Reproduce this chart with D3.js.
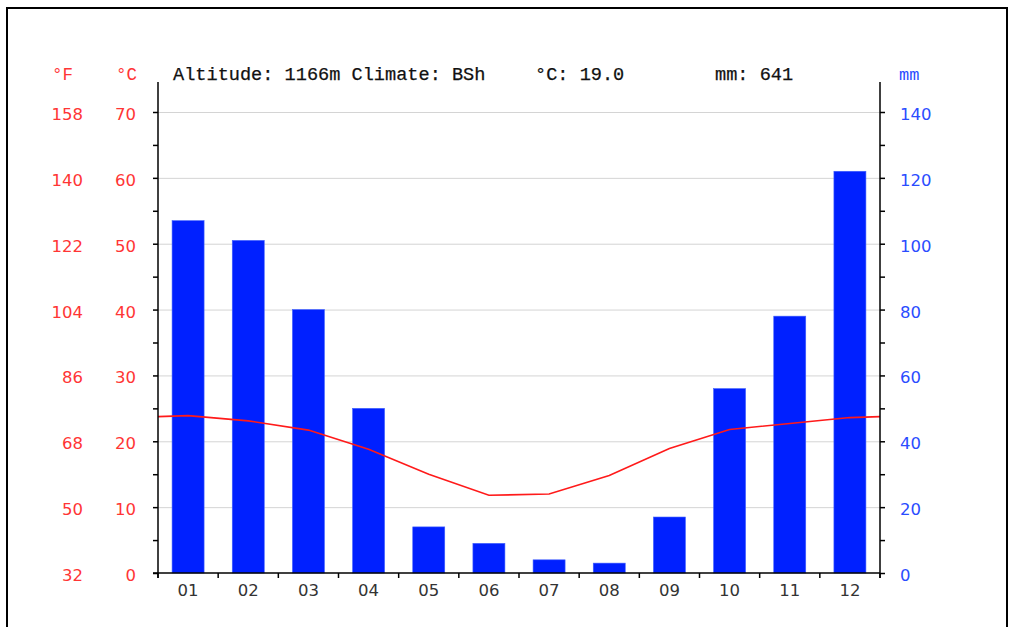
<!DOCTYPE html>
<html>
<head>
<meta charset="utf-8">
<script src="https://cdn.jsdelivr.net/npm/d3@7"></script>
<style>
  html, body { margin: 0; padding: 0; background: #fff; }
  svg { display: block; }
</style>
</head>
<body>
<svg id="chart" width="1009" height="627"></svg>
<script>
// Monthly climate normals
const months = ["01","02","03","04","05","06","07","08","09","10","11","12"];
const precipMm = [107, 101, 80, 50, 14, 9, 4, 3, 17, 56, 78, 122];
const tempC = [23.9, 23.1, 21.7, 18.8, 15.0, 11.8, 12.0, 14.8, 18.9, 21.8, 22.7, 23.6];
const celsiusTicks = [0, 10, 20, 30, 40, 50, 60, 70];
const fahrenheitTicks = [32, 50, 68, 86, 104, 122, 140, 158];
const mmTicks = [0, 20, 40, 60, 80, 100, 120, 140];
const headerInfo = { altitude: "1166m", climate: "BSh", meanC: "19.0", totalMm: "641" };

const RED = "#ff3535";
const BLUE = "#2a4cff";
const BAR = "#0020ff";

const svg = d3.select("#chart");
const plotLeft = 158, plotRight = 880, plotTop = 112, plotBottom = 573;

const x = d3.scaleBand().domain(months).range([plotLeft, plotRight]).paddingInner(0).paddingOuter(0);
const yC = d3.scaleLinear().domain([0, 70]).range([plotBottom, plotTop]);
const yMm = d3.scaleLinear().domain([0, 140]).range([plotBottom, plotTop]);
const yF = d3.scaleLinear().domain([32, 158]).range([plotBottom, plotTop]);

// outer frame
svg.append("path")
  .attr("d", `M7,640 V8 H1007 V640`)
  .attr("fill", "none").attr("stroke", "#000").attr("stroke-width", 2);

// horizontal grid
svg.append("g").selectAll("line").data(celsiusTicks.slice(1)).join("line")
  .attr("x1", plotLeft).attr("x2", plotRight)
  .attr("y1", d => yC(d) + 0.5).attr("y2", d => yC(d) + 0.5)
  .attr("stroke", "#d4d4d4").attr("stroke-width", 1);

// precipitation bars
const barW = 32;
svg.append("g").selectAll("rect").data(months).join("rect")
  .attr("x", (m) => x(m) + x.bandwidth() / 2 - barW / 2)
  .attr("width", barW)
  .attr("y", (m, i) => yMm(precipMm[i]))
  .attr("height", (m, i) => yMm(0) - yMm(precipMm[i]))
  .attr("fill", BAR)
  .attr("stroke", "#4060ff").attr("stroke-width", 0.6);

// temperature line, wrapped to the plot edges with the Dec/Jan mean
const edgeT = (tempC[0] + tempC[11]) / 2;
const linePts = [[plotLeft, edgeT]]
  .concat(months.map((m, i) => [x(m) + x.bandwidth() / 2, tempC[i]]))
  .concat([[plotRight, edgeT]]);
svg.append("path")
  .datum(linePts)
  .attr("d", d3.line().x(d => d[0]).y(d => yC(d[1])))
  .attr("fill", "none").attr("stroke", "#ff1a1a").attr("stroke-width", 1.6);

// left (°C) axis
const axC = d3.axisLeft(yC).tickValues(d3.range(0, 71, 5)).tickSize(5).tickFormat("");
const gL = svg.append("g").attr("transform", `translate(${plotLeft},0)`).call(axC);
gL.select(".domain").remove();
gL.selectAll(".tick line").attr("stroke", "#000").attr("stroke-width", 1.5);
svg.append("line").attr("x1", plotLeft).attr("x2", plotLeft).attr("y1", 82).attr("y2", 578)
  .attr("stroke", "#000").attr("stroke-width", 1.5);

// right (mm) axis
const axM = d3.axisRight(yMm).tickValues(d3.range(0, 141, 10)).tickSize(5).tickFormat("");
const gR = svg.append("g").attr("transform", `translate(${plotRight},0)`).call(axM);
gR.select(".domain").remove();
gR.selectAll(".tick line").attr("stroke", "#000").attr("stroke-width", 1.5);
svg.append("line").attr("x1", plotRight).attr("x2", plotRight).attr("y1", 82).attr("y2", 578)
  .attr("stroke", "#000").attr("stroke-width", 1.5);

// bottom axis
svg.append("line").attr("x1", plotLeft - 5).attr("x2", plotRight).attr("y1", plotBottom).attr("y2", plotBottom)
  .attr("stroke", "#000").attr("stroke-width", 1.5);
const monthEdges = months.map(m => x(m)).concat([plotRight]);
svg.append("g").selectAll("line").data(monthEdges).join("line")
  .attr("x1", d => d).attr("x2", d => d).attr("y1", plotBottom).attr("y2", plotBottom + 5)
  .attr("stroke", "#000").attr("stroke-width", 1.5);

const sans = "'DejaVu Sans', Verdana, sans-serif";
const mono = "'Liberation Mono', 'Courier New', monospace";

// month labels
svg.append("g").selectAll("text").data(months).join("text")
  .attr("x", m => x(m) + x.bandwidth() / 2)
  .attr("y", 596)
  .attr("text-anchor", "middle")
  .attr("font-family", sans).attr("font-size", 16.5)
  .attr("fill", "#333")
  .text(m => m);

// °C tick labels
svg.append("g").selectAll("text").data(celsiusTicks).join("text")
  .attr("x", 136).attr("y", d => yC(d) + 8)
  .attr("text-anchor", "end")
  .attr("font-family", sans).attr("font-size", 16.5)
  .attr("fill", RED)
  .text(d => d);

// °F tick labels
svg.append("g").selectAll("text").data(fahrenheitTicks).join("text")
  .attr("x", 83).attr("y", d => yF(d) + 8)
  .attr("text-anchor", "end")
  .attr("font-family", sans).attr("font-size", 16.5)
  .attr("fill", RED)
  .text(d => d);

// mm tick labels
svg.append("g").selectAll("text").data(mmTicks).join("text")
  .attr("x", 900).attr("y", d => yMm(d) + 8)
  .attr("text-anchor", "start")
  .attr("font-family", sans).attr("font-size", 16.5)
  .attr("fill", BLUE)
  .text(d => d);

// unit labels
svg.append("text").attr("x", 52).attr("y", 80).attr("font-family", mono).attr("font-size", 17.5)
  .attr("fill", RED).text("°F");
svg.append("text").attr("x", 116).attr("y", 80).attr("font-family", mono).attr("font-size", 17.5)
  .attr("fill", RED).text("°C");
svg.append("text").attr("x", 899).attr("y", 80).attr("font-family", mono).attr("font-size", 17)
  .attr("fill", BLUE).text("mm");

// header line
const hdr = svg.append("g").attr("font-family", mono).attr("font-size", 18.6)
  .attr("fill", "#111").attr("stroke", "#111").attr("stroke-width", 0.25);
hdr.append("text").attr("x", 173).attr("y", 80)
  .text(`Altitude: ${headerInfo.altitude} Climate: ${headerInfo.climate}`);
hdr.append("text").attr("x", 535).attr("y", 80).text(`°C: ${headerInfo.meanC}`);
hdr.append("text").attr("x", 715).attr("y", 80).text(`mm: ${headerInfo.totalMm}`);
</script>
</body>
</html>
